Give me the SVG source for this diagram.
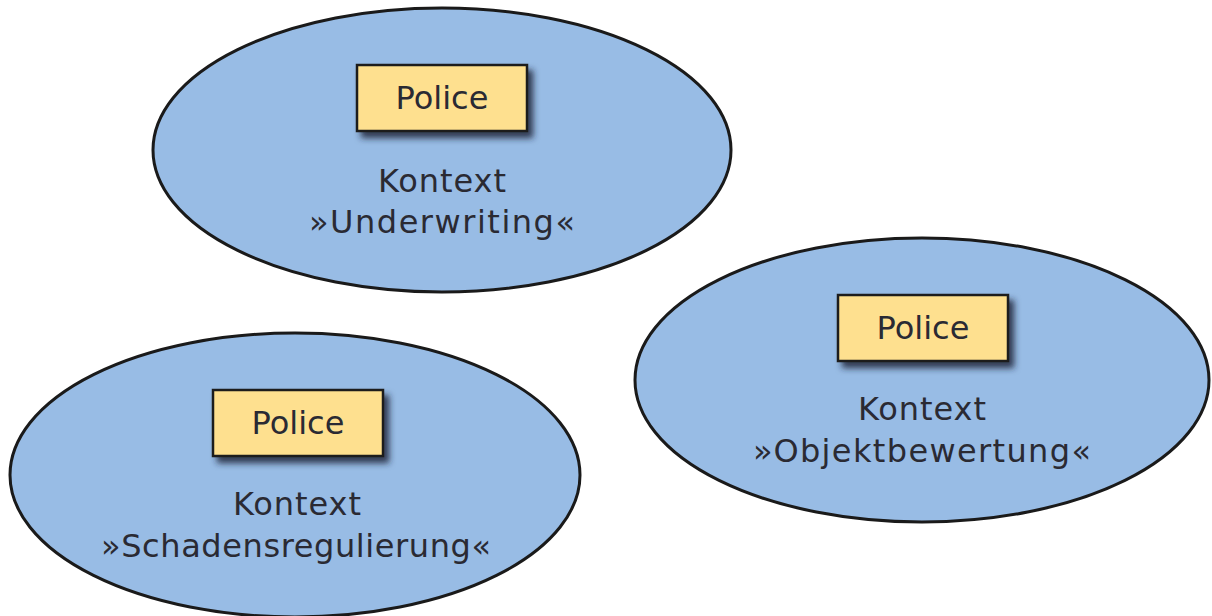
<svg xmlns="http://www.w3.org/2000/svg" width="1212" height="616" viewBox="0 0 1212 616">
  <defs>
    <filter id="shadow" x="-20%" y="-30%" width="150%" height="180%">
      <feDropShadow dx="5" dy="6" stdDeviation="3" flood-color="#1b2638" flood-opacity="0.85"/>
    </filter>
    <style>
      .ctx { fill: #98bce5; stroke: #1a1a1a; stroke-width: 3; }
      .entity { fill: #fee08f; stroke: #1a1a1a; stroke-width: 2.5; filter: url(#shadow); }
      .lbl { font-family: "DejaVu Sans", "Noto Sans", sans-serif; font-size: 32px; fill: #2a2a33; text-anchor: middle; }
    </style>
  </defs>

  <rect width="1212" height="616" fill="#ffffff"/>

  <!-- Bounded context: Underwriting -->
  <g id="ctx-underwriting">
    <ellipse class="ctx" cx="442" cy="150" rx="289" ry="142"/>
    <rect class="entity" x="357" y="65" width="170" height="66"/>
    <text class="lbl" x="442" y="109">Police</text>
    <text class="lbl" x="442" y="192" textLength="128" lengthAdjust="spacing">Kontext</text>
    <text class="lbl" x="442" y="233" textLength="266" lengthAdjust="spacing">»Underwriting«</text>
  </g>

  <!-- Bounded context: Schadensregulierung -->
  <g id="ctx-schadensregulierung">
    <ellipse class="ctx" cx="295" cy="475" rx="285" ry="142"/>
    <rect class="entity" x="213" y="390" width="170" height="66"/>
    <text class="lbl" x="298" y="434">Police</text>
    <text class="lbl" x="297" y="515" textLength="128" lengthAdjust="spacing">Kontext</text>
    <text class="lbl" x="296" y="557" textLength="390" lengthAdjust="spacing">»Schadensregulierung«</text>
  </g>

  <!-- Bounded context: Objektbewertung -->
  <g id="ctx-objektbewertung">
    <ellipse class="ctx" cx="922" cy="380" rx="287" ry="142"/>
    <rect class="entity" x="838" y="295" width="170" height="66"/>
    <text class="lbl" x="923" y="339">Police</text>
    <text class="lbl" x="922" y="420" textLength="128" lengthAdjust="spacing">Kontext</text>
    <text class="lbl" x="922" y="462" textLength="338" lengthAdjust="spacing">»Objektbewertung«</text>
  </g>

  <!-- no connectors between the contexts -->
  <g id="connectors"/>
</svg>
